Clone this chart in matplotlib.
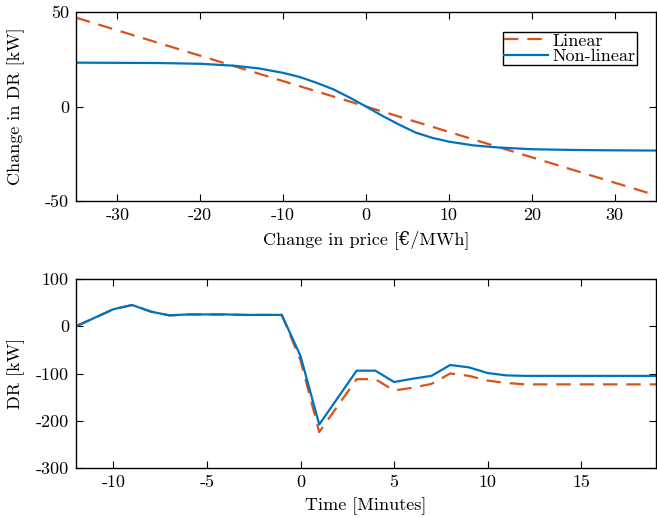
import matplotlib
matplotlib.use("Agg")
import matplotlib.pyplot as plt

# ---- data ----
price_lin = [-35, 35]
dr_lin = [47, -47]

price_nl = [-35, -30, -25, -20, -16, -13, -10, -8, -6, -4, -2, 0, 2, 4, 6, 8, 10, 13, 16, 20, 25, 30, 35]
dr_nl = [23.2, 23.1, 23.0, 22.6, 21.6, 20.2, 17.8, 15.6, 12.6, 9.2, 4.8, 0, -5.0, -9.6, -13.8, -16.6,
         -18.6, -20.6, -21.7, -22.6, -23.0, -23.2, -23.3]

time_min = list(range(-12, 20))
dr_time_nl = [0, 18, 36, 45, 31, 23, 25, 25, 25, 24, 24, 24, -63, -208, -151, -94, -94, -118, -111, -105,
              -82, -87, -99, -104, -105, -105, -105, -105, -105, -105, -105, -105]
dr_time_lin = [0, 18, 36, 45, 31, 23, 25, 25, 25, 24, 24, 24, -72, -224, -168, -112, -112, -136, -130, -122,
               -100, -105, -115, -120, -123, -123, -123, -123, -123, -123, -123, -123]

top_xticks = [-30, -20, -10, 0, 10, 20, 30]
top_yticks = [-50, 0, 50]
bot_xticks = [-10, -5, 0, 5, 10, 15]
bot_yticks = [-300, -200, -100, 0, 100]

# ---- style ----
plt.rcParams['font.family'] = ['cmr10', 'DejaVu Serif']
plt.rcParams['mathtext.fontset'] = 'cm'
plt.rcParams['axes.unicode_minus'] = False
plt.rcParams['axes.formatter.use_mathtext'] = True
FS = 13

ORANGE = '#D95319'
BLUE = '#0072BD'

fig = plt.figure(figsize=(6.57, 5.18), dpi=100)
ax1 = fig.add_axes([76/657, 1-201/518, 580/657, 189/518])
ax2 = fig.add_axes([76/657, 1-468/518, 580/657, 189/518])

def style(ax):
    ax.tick_params(direction='in', top=True, right=True, length=5, width=0.8,
                   labelsize=FS, pad=5)
    for s in ax.spines.values():
        s.set_linewidth(1.0)

ax1.plot(price_lin, dr_lin, color=ORANGE, lw=1.6, dashes=(6.5, 4), label='Linear')
ax1.plot(price_nl, dr_nl, color=BLUE, lw=1.6, label='Non-linear')
ax1.set_xlim(-35, 35)
ax1.set_ylim(-50, 50)
ax1.set_xticks(top_xticks)
ax1.set_yticks(top_yticks)
ax1.set_xticklabels([str(v) for v in top_xticks])
ax1.set_yticklabels([str(v) for v in top_yticks])
ax1.set_xlabel('Change in price [€/MWh]', fontsize=FS, labelpad=5)
ax1.set_ylabel('Change in DR [kW]', fontsize=FS)
ax1.yaxis.set_label_coords(-0.088, 0.5)
style(ax1)
leg = ax1.legend(loc='upper right', bbox_to_anchor=(0.967, 0.894), fontsize=FS, frameon=True,
                 fancybox=False, edgecolor='black', framealpha=1, borderpad=0.05,
                 labelspacing=0.0, handlelength=2.4, handletextpad=0.3, borderaxespad=0)
leg.get_frame().set_linewidth(1.0)

ax2.plot(time_min, dr_time_lin, color=ORANGE, lw=1.6, dashes=(6.5, 4))
ax2.plot(time_min, dr_time_nl, color=BLUE, lw=1.6)
ax2.set_xlim(-12, 19)
ax2.set_ylim(-300, 100)
ax2.set_xticks(bot_xticks)
ax2.set_yticks(bot_yticks)
ax2.set_xticklabels([str(v) for v in bot_xticks])
ax2.set_yticklabels([str(v) for v in bot_yticks])
ax2.set_xlabel('Time [Minutes]', fontsize=FS, labelpad=5)
ax2.set_ylabel('DR [kW]', fontsize=FS)
ax2.yaxis.set_label_coords(-0.088, 0.5)
style(ax2)

fig.savefig('out.png', dpi=100)
